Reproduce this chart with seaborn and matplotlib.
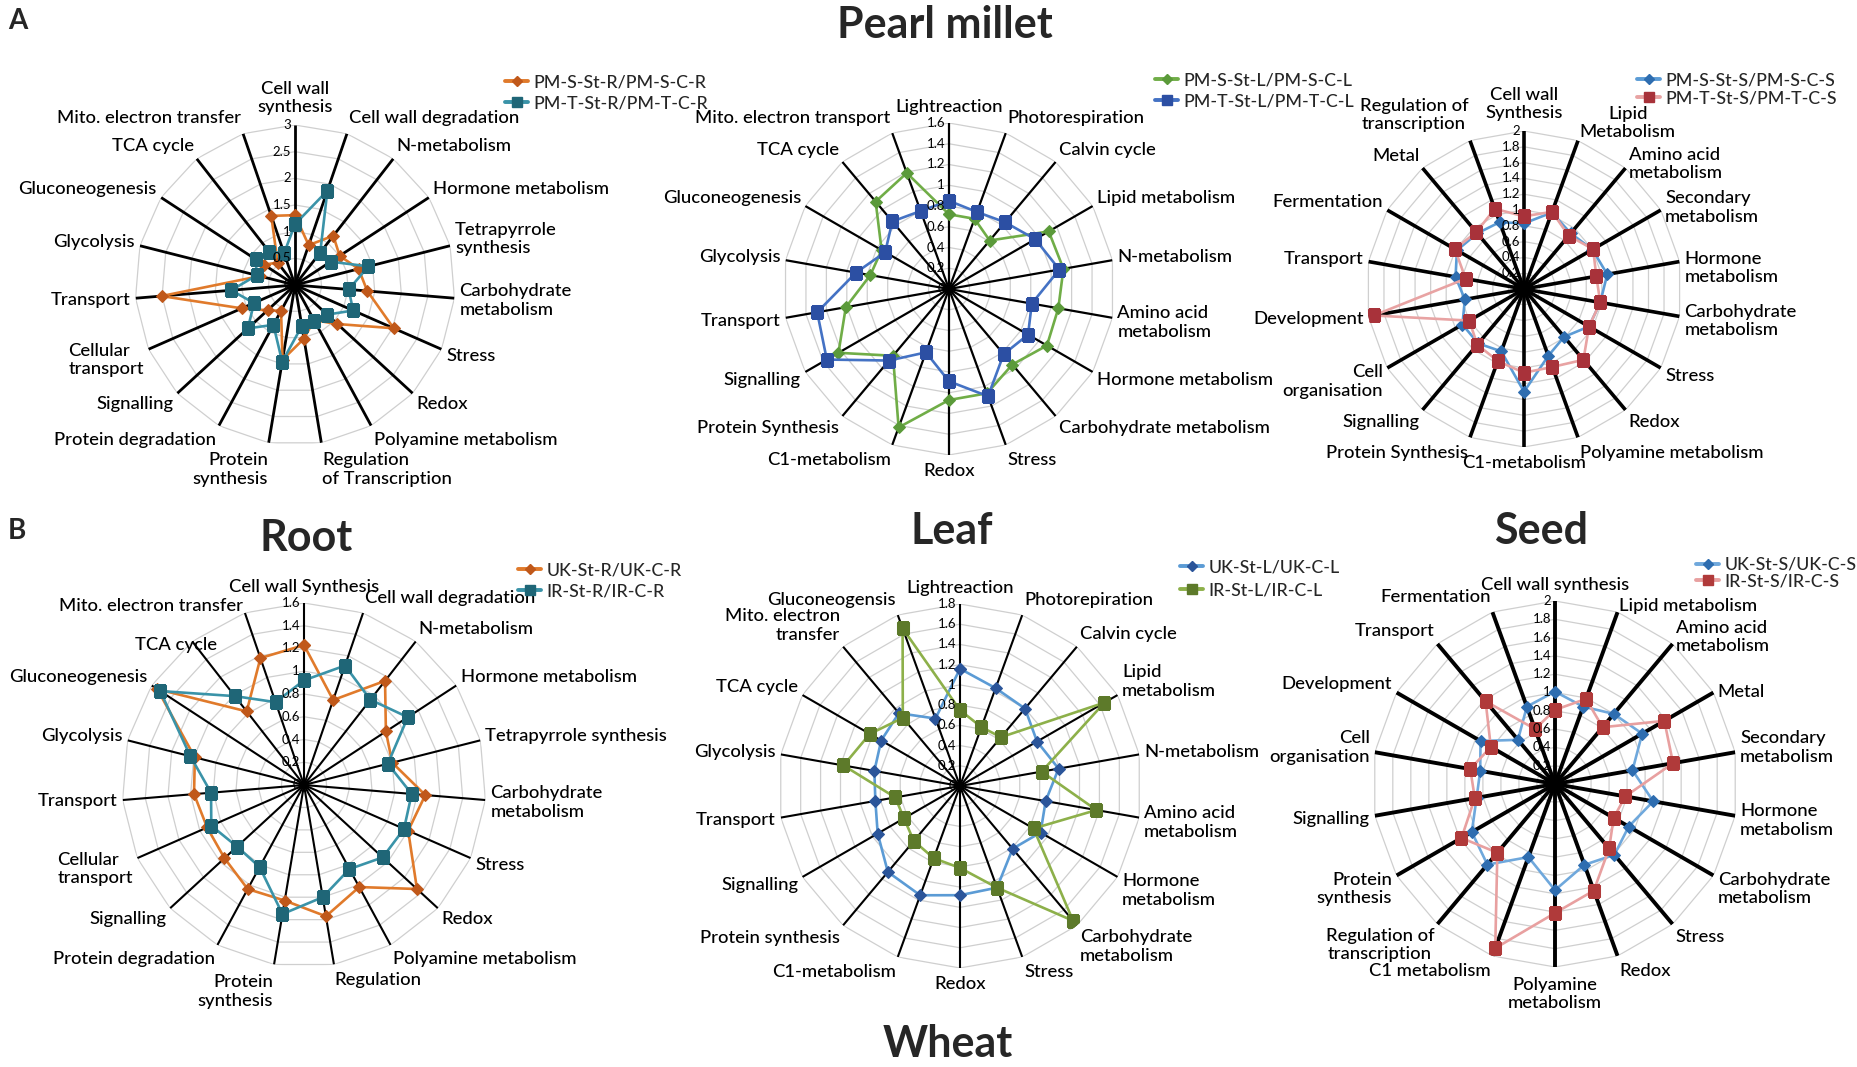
import numpy as np
import pandas as pd
import seaborn as sns
import matplotlib.pyplot as plt
from matplotlib.lines import Line2D
from matplotlib.transforms import offset_copy

W, H = 1858, 1067

# Pearl millet - root
pm_root_cats = ['Cell wall\nsynthesis', 'Cell wall degradation', 'N-metabolism', 'Hormone metabolism',
                'Tetrapyrrole\nsynthesis', 'Carbohydrate\nmetabolism', 'Stress', 'Redox',
                'Polyamine metabolism', 'Regulation\nof Transcription', 'Protein\nsynthesis',
                'Protein degradation', 'Signalling', 'Cellular\ntransport', 'Transport', 'Glycolysis',
                'Gluconeogenesis', 'TCA cycle', 'Mito. electron transfer']
pm_root_s = [1.31, 0.79, 1.17, 1.00, 1.23, 1.36, 2.02, 1.08, 0.75, 1.02, 1.42, 0.55, 0.70, 1.09,
             2.51, 0.68, 0.70, 0.53, 1.37]
pm_root_t = [1.14, 1.87, 0.77, 0.80, 1.42, 1.01, 1.19, 0.82, 0.76, 0.78, 1.46, 0.85, 1.20, 0.84,
             1.20, 0.74, 0.88, 0.79, 0.63]

# Pearl millet - leaf
pm_leaf_cats = ['Lightreaction', 'Photorespiration', 'Calvin cycle', 'Lipid metabolism', 'N-metabolism',
                'Amino acid\nmetabolism', 'Hormone metabolism', 'Carbohydrate metabolism', 'Stress',
                'Redox', 'C1-metabolism', 'Protein Synthesis', 'Signalling', 'Transport', 'Glycolysis',
                'Gluconeogenesis', 'TCA cycle', 'Mito. electron transport']
pm_leaf_s = [0.72, 0.72, 0.61, 1.11, 1.12, 1.07, 1.09, 0.95, 1.07, 1.07, 1.42, 0.84, 1.23, 1.01,
             0.77, 0.75, 1.10, 1.19]
pm_leaf_t = [0.85, 0.79, 0.84, 0.96, 1.08, 0.81, 0.88, 0.82, 1.10, 0.89, 0.65, 0.90, 1.36, 1.29,
             0.91, 0.71, 0.85, 0.80]

# Pearl millet - seed
pm_seed_cats = ['Cell wall\nSynthesis', 'Lipid\nMetabolism', 'Amino acid\nmetabolism', 'Secondary\nmetabolism',
                'Hormone\nmetabolism', 'Carbohydrate\nmetabolism', 'Stress', 'Redox', 'Polyamine metabolism',
                'C1-metabolism', 'Protein Synthesis', 'Signalling', 'Cell\norganisation', 'Development',
                'Transport', 'Fermentation', 'Metal', 'Regulation of\ntranscription']
pm_seed_s = [0.83, 1.03, 0.92, 1.00, 1.07, 0.98, 0.95, 0.79, 0.90, 1.30, 0.84, 0.90, 0.90, 0.76,
             0.88, 0.98, 0.92, 0.90]
pm_seed_t = [0.92, 1.04, 0.88, 1.01, 0.93, 0.98, 0.95, 1.17, 1.05, 1.06, 0.97, 0.92, 0.80, 1.93,
             0.75, 1.01, 0.94, 1.08]

# Wheat - root
wh_root_cats = ['Cell wall Synthesis', 'Cell wall degradation', 'N-metabolism', 'Hormone metabolism',
                'Tetrapyrrole synthesis', 'Carbohydrate\nmetabolism', 'Stress', 'Redox',
                'Polyamine metabolism', 'Regulation', 'Protein\nsynthesis', 'Protein degradation',
                'Signalling', 'Cellular\ntransport', 'Transport', 'Glycolysis', 'Gluconeogenesis',
                'TCA cycle', 'Mito. electron transfer']
wh_root_uk = [1.23, 0.79, 1.16, 0.86, 0.80, 1.07, 1.00, 1.35, 1.02, 1.17, 1.03, 1.04, 0.95, 0.93,
              0.97, 0.99, 1.54, 0.82, 1.18]
wh_root_ir = [0.92, 1.11, 0.95, 1.09, 0.76, 0.95, 0.96, 0.94, 0.84, 1.00, 1.15, 0.82, 0.80, 0.89,
              0.82, 1.03, 1.51, 0.99, 0.77]

# Wheat - leaf
wh_leaf_cats = ['Lightreaction', 'Photorepiration', 'Calvin cycle', 'Lipid\nmetabolism', 'N-metabolism',
                'Amino acid\nmetabolism', 'Hormone\nmetabolism', 'Carbohydrate\nmetabolism', 'Stress',
                'Redox', 'C1-metabolism', 'Protein synthesis', 'Signalling', 'Transport', 'Glycolysis',
                'TCA cycle', 'Mito. electron\ntransfer', 'Gluconeogensis']
wh_leaf_uk = [1.16, 1.03, 1.00, 0.88, 0.99, 0.86, 0.92, 0.81, 1.07, 1.08, 1.15, 1.11, 0.94, 0.85,
              0.86, 0.90, 0.94, 0.71]
wh_leaf_ir = [0.75, 0.62, 0.63, 1.65, 0.82, 1.37, 0.84, 1.74, 1.07, 0.81, 0.76, 0.71, 0.64, 0.65,
              1.17, 1.03, 0.88, 1.66]

# Wheat - seed
wh_seed_cats = ['Cell wall synthesis', 'Lipid metabolism', 'Amino acid\nmetabolism', 'Metal',
                'Secondary\nmetabolism', 'Hormone\nmetabolism', 'Carbohydrate\nmetabolism', 'Stress',
                'Redox', 'Polyamine\nmetabolism', 'C1 metabolism', 'Regulation of\ntranscription',
                'Protein\nsynthesis', 'Signalling', 'Cell\norganisation', 'Development', 'Transport',
                'Fermentation']
wh_seed_uk = [1.01, 0.90, 1.00, 1.10, 0.86, 1.09, 0.93, 1.01, 0.94, 1.16, 0.85, 1.15, 1.05, 0.87,
              0.83, 0.94, 0.63, 0.90]
wh_seed_ir = [0.81, 0.99, 0.81, 1.38, 1.31, 0.78, 0.74, 0.92, 1.24, 1.41, 1.91, 0.98, 1.18, 0.89,
              0.94, 0.81, 1.18, 0.64]

sns.set_theme(style='white')
plt.rcParams['font.family'] = ['Lato', 'DejaVu Sans']

fig = plt.figure(figsize=(W / 100, H / 100), dpi=100)

LABEL_FS = 13.3
# multi-line labels whose lines are not aligned like the label itself
ML_CENTER = {'Lipid\nMetabolism', 'Regulation of\ntranscription'}
ML_LEFT = {'Cellular\ntransport'}


def radar(cx, cy, R, cats, series, rmax, step, spoke_lw, leg_xy, leg_space, nudge=None):
    ax = fig.add_axes([(cx - R) / W, 1 - (cy + R) / H, 2 * R / W, 2 * R / H], projection='polar')
    n = len(cats)
    theta = np.arange(n) * 2 * np.pi / n
    closed = np.append(theta, 2 * np.pi)
    ax.set_theta_zero_location('N')
    ax.set_theta_direction(-1)
    ax.grid(False)
    ax.spines['polar'].set_visible(False)
    ticks = np.arange(step, rmax + step / 2, step)
    for r in ticks:
        ax.plot(closed, [r] * (n + 1), color='#cfcfcf', lw=0.9, zorder=1)
    ax.vlines(theta, 0, rmax, color='black', lw=spoke_lw, zorder=2)

    handles = []
    for label, vals, lc, mk, mc, ms in series:
        df = pd.DataFrame({'theta': closed, 'value': list(vals) + [vals[0]]})
        sns.lineplot(data=df, x='theta', y='value', ax=ax, sort=False, estimator=None,
                     color=lc, lw=1.9, marker=mk, markersize=ms, markerfacecolor=mc,
                     markeredgecolor=mc, zorder=3)
        handles.append(Line2D([0], [0], color=lc, lw=2.8, marker=mk, markersize=ms * 0.8,
                              markerfacecolor=mc, markeredgecolor=mc))
    ax.set_xlabel('')
    ax.set_ylabel('')
    ax.set_xticks([])
    ax.set_yticks([])
    ax.set_ylim(0, rmax)

    # category labels
    nudge = nudge or {}
    for i, (t, lab) in enumerate(zip(theta, cats)):
        s, c = np.sin(t), np.cos(t)
        ha = 'left' if s > 0.12 else ('right' if s < -0.12 else 'center')
        ma = 'center' if lab in ML_CENTER else ('left' if lab in ML_LEFT else ha)
        nl = lab.count('\n') + 1
        h = nl * LABEL_FS * 1.39 * 1.2
        gap = 5
        ndx, ndy = nudge.get(i, (0, 0))
        tr = offset_copy(ax.transData, fig=fig, x=gap * s + ndx, y=c * (gap + h / 2) + ndy, units='dots')
        ax.text(t, rmax, lab, transform=tr, ha=ha, va='center', multialignment=ma,
                fontsize=LABEL_FS, fontweight='medium', color='black', clip_on=False)

    # radial value labels along the top spoke
    for r in np.append(0, ticks):
        tr = offset_copy(ax.transData, fig=fig, x=-4, y=0, units='dots')
        ax.text(0, r, '{:g}'.format(round(r, 2)), transform=tr, ha='right', va='center',
                fontsize=9.5, color='black', clip_on=False)

    fig.legend(handles, [s[0] for s in series], loc='upper left',
               bbox_to_anchor=(leg_xy[0] / W, 1 - leg_xy[1] / H), bbox_transform=fig.transFigure,
               frameon=False, borderpad=0, borderaxespad=0, handlelength=1.3,
               handletextpad=0.3, labelspacing=leg_space,
               prop={'size': 12.8, 'weight': 'medium'})
    return ax


ORANGE_L, ORANGE_M = '#e07a2b', '#c0581a'
TEAL_L, TEAL_M = '#3a93a8', '#1f6677'

radar(295, 285, 160, pm_root_cats,
      [('PM-S-St-R/PM-S-C-R', pm_root_s, ORANGE_L, 'D', ORANGE_M, 6.5),
       ('PM-T-St-R/PM-T-C-R', pm_root_t, TEAL_L, 's', TEAL_M, 8.5)],
      3, 0.5, 2.0, (505, 74), 0.3)

radar(949, 289, 166, pm_leaf_cats,
      [('PM-S-St-L/PM-S-C-L', pm_leaf_s, '#70ad47', 'D', '#5b9a3a', 6),
       ('PM-T-St-L/PM-T-C-L', pm_leaf_t, '#4472c4', 's', '#2c4fa3', 8.5)],
      1.6, 0.2, 1.6, (1155, 72), 0.3)

radar(1524, 289, 158, pm_seed_cats,
      [('PM-S-St-S/PM-S-C-S', pm_seed_s, '#5b9bd5', 'D', '#2e6db0', 6),
       ('PM-T-St-S/PM-T-C-S', pm_seed_t, '#e8a3a3', 's', '#a8323a', 8.5)],
      2, 0.2, 2.6, (1637, 72), 0.15,
      nudge={1: (0, -8), 2: (0, -17), 3: (0, -11), 4: (0, -11)})

radar(304, 785, 182, wh_root_cats,
      [('UK-St-R/UK-C-R', wh_root_uk, ORANGE_L, 'D', ORANGE_M, 6.5),
       ('IR-St-R/IR-C-R', wh_root_ir, TEAL_L, 's', TEAL_M, 9)],
      1.6, 0.2, 1.5, (518, 562), 0.3, nudge={17: (28, -16), 18: (0, -8)})

radar(960, 786, 182, wh_leaf_cats,
      [('UK-St-L/UK-C-L', wh_leaf_uk, '#5b9bd5', 'D', '#2b559a', 6.5),
       ('IR-St-L/IR-C-L', wh_leaf_ir, '#8db04a', 's', '#5d7a2a', 9)],
      1.8, 0.2, 1.5, (1180, 559), 0.4)

radar(1555, 784, 183, wh_seed_cats,
      [('UK-St-S/UK-C-S', wh_seed_uk, '#6fa8dc', 'D', '#2e6db0', 6.5),
       ('IR-St-S/IR-C-S', wh_seed_ir, '#e8a0a0', 's', '#b03a3a', 9)],
      2, 0.2, 2.8, (1696, 557), 0.02, nudge={1: (0, -9), 2: (0, -14), 3: (0, -8)})

# titles
fig.text(8 / W, 1 - 21 / H, 'A', ha='left', va='center', fontsize=20, fontweight='bold')
fig.text(8 / W, 1 - 531 / H, 'B', ha='left', va='center', fontsize=20, fontweight='bold')
fig.text(945 / W, 1 - 25 / H, 'Pearl millet', ha='center', va='center', fontsize=31, fontweight='bold')
fig.text(306 / W, 1 - 538 / H, 'Root', ha='center', va='center', fontsize=31, fontweight='bold')
fig.text(952 / W, 1 - 531 / H, 'Leaf', ha='center', va='center', fontsize=31, fontweight='bold')
fig.text(1541 / W, 1 - 531 / H, 'Seed', ha='center', va='center', fontsize=31, fontweight='bold')
fig.text(948 / W, 1 - 1044 / H, 'Wheat', ha='center', va='center', fontsize=31, fontweight='bold')

fig.savefig('out.png', dpi=100, facecolor='white')
